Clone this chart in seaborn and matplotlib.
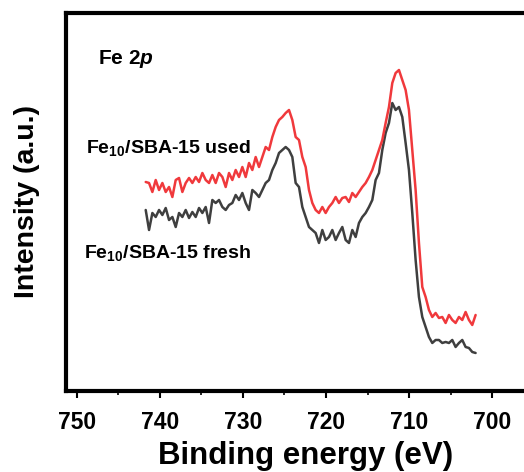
import numpy as np
import pandas as pd
import matplotlib
matplotlib.use("Agg")
import matplotlib.pyplot as plt
import seaborn as sns
from matplotlib.ticker import MultipleLocator, NullLocator

sns.set_theme(style="white")
plt.rcParams["font.family"] = ["Liberation Sans", "DejaVu Sans"]
plt.rcParams["text.color"] = "black"
plt.rcParams["axes.labelcolor"] = "black"
plt.rcParams["xtick.color"] = "black"
plt.rcParams["mathtext.fontset"] = "custom"
plt.rcParams["mathtext.rm"] = "Liberation Sans:bold"
plt.rcParams["mathtext.it"] = "Liberation Sans:bold:italic"
plt.rcParams["mathtext.bf"] = "Liberation Sans:bold"

# Fe 2p XPS spectra, intensity in arbitrary units (high -> low binding energy)
used_intensity = [
    218, 217, 208, 220, 210, 217, 208, 213, 203, 220,
    222, 208, 217, 222, 217, 223, 218, 227, 220, 217,
    225, 217, 227, 223, 213, 227, 220, 230, 223, 233,
    223, 237, 230, 243, 233, 243, 253, 250, 263, 273,
    280, 283, 287, 290, 280, 263, 260, 243, 233, 210,
    197, 190, 187, 193, 187, 193, 197, 203, 197, 202,
    203, 198, 207, 203, 208, 213, 217, 223, 230, 240,
    250, 260, 277, 293, 317, 327, 330, 320, 310, 290,
    250, 210, 157, 113, 103, 90, 83, 87, 82, 83,
    77, 85, 80, 77, 83, 80, 88, 80, 75, 85,
]
fresh_intensity = [
    190, 170, 187, 183, 190, 185, 192, 180, 183, 173,
    187, 183, 190, 182, 188, 183, 192, 187, 193, 177,
    200, 197, 200, 193, 190, 195, 197, 205, 200, 207,
    197, 190, 210, 207, 203, 210, 217, 220, 230, 237,
    247, 250, 253, 250, 243, 217, 213, 193, 183, 173,
    170, 167, 157, 170, 160, 163, 170, 160, 167, 173,
    160, 157, 170, 163, 177, 183, 187, 193, 200, 220,
    227, 250, 267, 277, 297, 290, 293, 283, 257, 230,
    187, 140, 103, 83, 73, 63, 57, 60, 60, 57,
    58, 57, 60, 53, 57, 60, 53, 52, 48, 47,
]
binding_energy = np.linspace(741.7, 702.0, len(used_intensity))

series_labels = [r"Fe$_{10}$/SBA-15 used", r"Fe$_{10}$/SBA-15 fresh"]
series_colors = ["#f0393c", "#3f3f3f"]

df = pd.DataFrame({
    "energy": np.concatenate([binding_energy, binding_energy]),
    "intensity": np.concatenate([used_intensity, fresh_intensity]),
    "sample": [series_labels[0]] * len(used_intensity) + [series_labels[1]] * len(fresh_intensity),
})

fig = plt.figure(figsize=(5.24, 4.72), dpi=100)
ax = fig.add_axes([0.126, 0.1706, 0.8855, 0.8029])

sns.lineplot(data=df, x="energy", y="intensity", hue="sample",
             hue_order=series_labels[::-1], palette=series_colors[::-1],
             linewidth=1.8, legend=False, ax=ax, sort=False, estimator=None)

ax.set_xlim(751.29, 695.45)
ax.set_ylim(8.5, 387.5)

for spine in ax.spines.values():
    spine.set_visible(True)
    spine.set_color("black")
    spine.set_linewidth(3.0)

ax.xaxis.set_major_locator(MultipleLocator(10))
ax.xaxis.set_minor_locator(MultipleLocator(5))
ax.yaxis.set_major_locator(NullLocator())
ax.tick_params(axis="x", which="major", direction="out", length=5, width=1.5,
               bottom=True, labelsize=16.5, pad=9, colors="black")
ax.tick_params(axis="x", which="minor", direction="out", length=3, width=1.2,
               bottom=True)
for lbl in ax.get_xticklabels():
    lbl.set_fontweight("bold")

ax.set_xlabel("Binding energy (eV)", fontsize=22.5, fontweight="bold")
ax.xaxis.set_label_coords(306 / 524, 1 - 464 / 472, transform=fig.transFigure)
ax.xaxis.label.set_va("baseline")
ax.set_ylabel("Intensity (a.u.)", fontsize=20.5, fontweight="bold", labelpad=19)


def fig_xy(px, py):
    return px / 524, 1 - py / 472


fig.text(*fig_xy(98, 64), r"Fe 2$\it{p}$", fontsize=15, fontweight="bold", va="baseline")
fig.text(*fig_xy(86, 153), series_labels[0], fontsize=14, fontweight="bold", va="baseline")
fig.text(*fig_xy(84, 258), series_labels[1], fontsize=14, fontweight="bold", va="baseline")

fig.savefig("out.png", dpi=100)
